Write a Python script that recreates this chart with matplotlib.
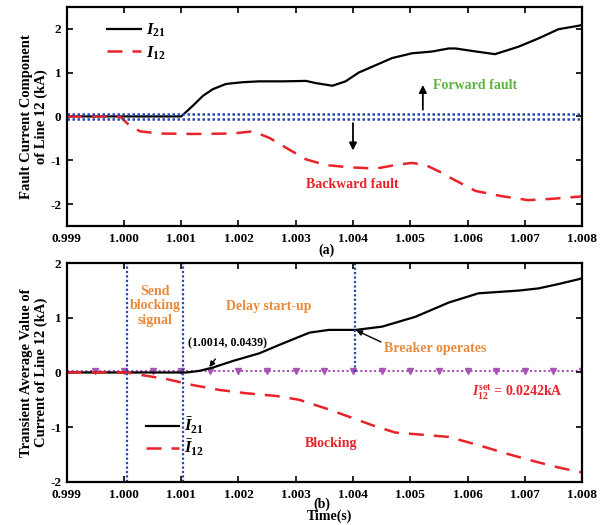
import matplotlib
matplotlib.use("Agg")
import matplotlib.pyplot as plt
import numpy as np

plt.rcParams["font.family"] = "Liberation Serif"
plt.rcParams["font.weight"] = "bold"
plt.rcParams["axes.labelweight"] = "bold"
plt.rcParams["axes.unicode_minus"] = False
plt.rcParams["mathtext.fontset"] = "custom"
plt.rcParams["mathtext.rm"] = "Liberation Serif:bold"
plt.rcParams["mathtext.it"] = "Liberation Serif:italic:bold"
plt.rcParams["mathtext.bf"] = "Liberation Serif:bold"

# ---- (a) fault current component ----
t_i21_a = [0.999, 1.0005, 1.0010, 1.0012, 1.00138, 1.00155, 1.00178, 1.00207, 1.00236,
           1.00277, 1.00318, 1.00335, 1.00364, 1.00387, 1.0041, 1.0044, 1.00468, 1.00503,
           1.00538, 1.00567, 1.00579, 1.0061, 1.00648, 1.00689, 1.00724, 1.00759, 1.00795, 1.008]
i21_a = [0.0, 0.0, 0.0, 0.24, 0.47, 0.62, 0.74, 0.78, 0.80,
         0.80, 0.81, 0.76, 0.70, 0.80, 1.0, 1.17, 1.33, 1.44,
         1.48, 1.55, 1.55, 1.49, 1.42, 1.59, 1.78, 1.99, 2.07, 2.09]

t_i12_a = [0.999, 0.99993, 1.0001, 1.00028, 1.00062, 1.0012, 1.0019, 1.00225, 1.00254,
           1.00289, 1.00318, 1.00353, 1.00393, 1.0044, 1.00474, 1.00503, 1.00527, 1.00556,
           1.00573, 1.00614, 1.0066, 1.00706, 1.00747, 1.00795, 1.008]
i12_a = [0.0, 0.0, -0.21, -0.34, -0.39, -0.40, -0.39, -0.34, -0.49,
         -0.76, -0.98, -1.11, -1.16, -1.19, -1.11, -1.06, -1.11, -1.29,
         -1.42, -1.70, -1.82, -1.91, -1.88, -1.83, -1.82]
band = 0.058

# ---- (b) transient average value ----
t_i21_b = [0.999, 1.0005, 1.00109, 1.00132, 1.00155, 1.0019, 1.00236, 1.00277, 1.00324,
           1.00358, 1.00405, 1.00451, 1.00509, 1.00567, 1.00619, 1.00689, 1.00724, 1.00759,
           1.00795, 1.008]
i21_b = [0.0, 0.0, 0.0, 0.03, 0.09, 0.21, 0.35, 0.53, 0.73,
         0.78, 0.78, 0.84, 1.02, 1.28, 1.45, 1.50, 1.54, 1.62,
         1.71, 1.73]

t_i12_b = [0.999, 1.00004, 1.00033, 1.00074, 1.0012, 1.00167, 1.00213, 1.00266, 1.00306,
           1.00353, 1.00393, 1.0044, 1.00474, 1.00521, 1.00567, 1.00619, 1.00666, 1.00718,
           1.00759, 1.00795, 1.008]
i12_b = [0.0, 0.0, -0.05, -0.12, -0.23, -0.32, -0.38, -0.43, -0.50,
         -0.66, -0.81, -0.99, -1.10, -1.14, -1.18, -1.33, -1.48, -1.63,
         -1.74, -1.82, -1.83]

i_set = 0.0242
t_send, t_delay, t_break = 1.00005, 1.00103, 1.00404
pt_start = (1.0014, 0.0439)

RED = "#e8232a"
ORANGE = "#e88a3c"
GREEN = "#5cb53c"
BLUE = "#2846b0"
PURPLE = "#a655b2"

fig = plt.figure(figsize=(6.12, 5.25), dpi=100)
ax1 = fig.add_axes([0.109, 0.5695, 0.842, 0.4175])
ax2 = fig.add_axes([0.109, 0.0825, 0.842, 0.4160])

for ax in (ax1, ax2):
    ax.set_xlim(0.999, 1.008)
    ax.set_xticks([0.999 + 0.001 * k for k in range(10)])
    ax.set_xticklabels([f"{0.999 + 0.001 * k:.3f}" for k in range(10)])
    ax.tick_params(direction="in", top=True, right=True, length=4, width=1.2,
                   labelsize=9.5, pad=4)
    ax.tick_params(axis="x", pad=5)
    for s in ax.spines.values():
        s.set_linewidth(1.6)

# (a)
ax1.plot(t_i21_a, i21_a, color="k", lw=1.6, label=r"$I_{21}$")
ax1.plot(t_i12_a, i12_a, color=RED, lw=1.8, dashes=(6, 4), label=r"$I_{12}$")
ax1.axhline(band, color=BLUE, lw=1.8, ls=(0, (1, 1)))
ax1.axhline(-band, color=BLUE, lw=1.8, ls=(0, (1, 1)))
ax1.set_ylim(-2.5, 2.5)
ax1.set_yticks([-2, -1, 0, 1, 2])
ax1.annotate("", xy=(1.00522, 0.78), xytext=(1.00522, 0.09),
             arrowprops=dict(arrowstyle="-|>", color="k", lw=1.3, mutation_scale=11))
ax1.annotate("", xy=(1.0040, -0.84), xytext=(1.0040, -0.09),
             arrowprops=dict(arrowstyle="-|>", color="k", lw=1.3, mutation_scale=11))
ax1.text(1.00614, 0.70, "Forward fault", color=GREEN, fontsize=10, ha="center", va="center")
ax1.text(1.00398, -1.55, "Backward fault", color=RED, fontsize=10, ha="center", va="center")
ax1.set_ylabel("Fault Current Component\nof Line 12 (kA)", fontsize=10.5, linespacing=1.1)
ax1.yaxis.set_label_coords(-0.037, 0.5)
fig.text(0.533, 0.524, "(a)", fontsize=10, ha="center", va="center")
ax1.legend(loc="upper left", bbox_to_anchor=(0.05, 1.0), frameon=False, fontsize=12,
           handlelength=2.0, handletextpad=0.3, labelspacing=0.3)

# (b)
ax2.plot(t_i21_b, i21_b, color="k", lw=1.6, label=r"$\bar{I}_{21}$")
ax2.plot(t_i12_b, i12_b, color=RED, lw=1.8, dashes=(6, 4), label=r"$\bar{I}_{12}$")
t_mark = np.linspace(0.999, 1.008, 19)
ax2.plot(t_mark, [i_set] * len(t_mark), color=PURPLE, lw=1.5, ls=(0, (1, 1.2)),
         marker="v", markersize=4.5, markevery=slice(1, None), zorder=1)
ax2.axvline(t_send, color=BLUE, lw=1.6, ls=(0, (1, 1)))
ax2.axvline(t_delay, color=BLUE, lw=1.6, ls=(0, (1, 1)))
ax2.plot([t_break, t_break], [0, 2], color=BLUE, lw=1.6, ls=(0, (1, 1)))
ax2.set_ylim(-2, 2)
ax2.set_yticks([-2, -1, 0, 1, 2])
ax2.text(1.00054, 1.22, "Send\nblocking\nsignal", color=ORANGE, fontsize=10,
         ha="center", va="center", linespacing=1.15)
ax2.text(1.00253, 1.21, "Delay start-up", color=ORANGE, fontsize=10, ha="center", va="center")
ax2.annotate(f"({pt_start[0]}, {pt_start[1]})", xy=(pt_start[0] + 0.00009, 0.10),
             xytext=(1.0018, 0.53), fontsize=8.5, ha="center", va="center",
             arrowprops=dict(arrowstyle="-|>", color="k", lw=1.0, mutation_scale=8,
                             shrinkA=6, shrinkB=0))
ax2.annotate("Breaker operates", xy=(t_break + 0.00002, 0.77), xytext=(1.00543, 0.44),
             color=ORANGE, fontsize=10, ha="center", va="center",
             arrowprops=dict(arrowstyle="-|>", color="k", lw=1.0, mutation_scale=8,
                             shrinkA=0, shrinkB=0, relpos=(0.0, 0.9)))
ax2.text(1.00767, -0.36, r"$I_{12}^{\mathrm{set}}$ = 0.0242kA", color=RED, fontsize=10,
         ha="right", va="center")
ax2.text(1.00362, -1.30, "Blocking", color=RED, fontsize=10, ha="center", va="center")
ax2.set_ylabel("Transient Average Value of\nCurrent of Line 12 (kA)", fontsize=10.5,
               linespacing=1.1)
ax2.yaxis.set_label_coords(-0.037, 0.5)
fig.text(0.526, 0.040, "(b)", fontsize=10, ha="center", va="center")
fig.text(0.539, 0.016, "Time(s)", fontsize=10, ha="center", va="center")
ax2.legend(loc="lower left", bbox_to_anchor=(0.125, 0.04), frameon=False, fontsize=12,
           handlelength=2.0, handletextpad=0.3, labelspacing=0.1)

fig.savefig("out.png", dpi=100)
